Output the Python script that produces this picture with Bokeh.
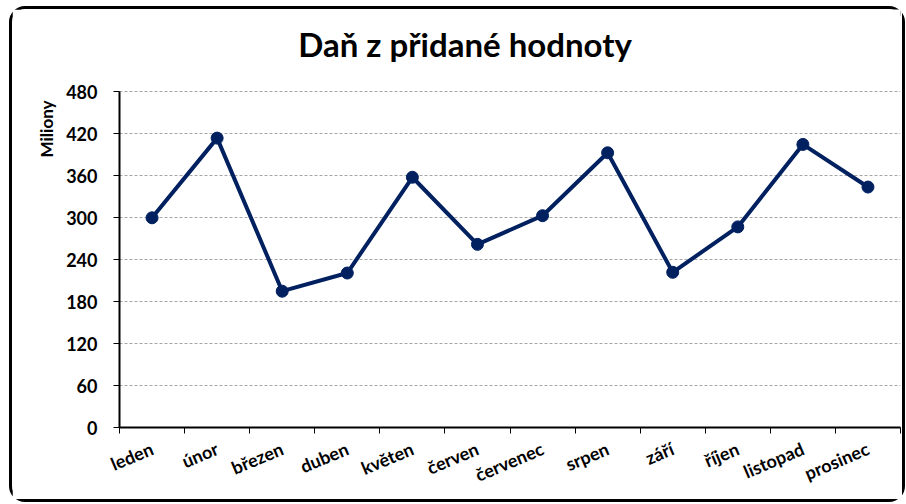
import math
from bokeh.plotting import figure
from bokeh.models import (ColumnDataSource, FixedTicker, Range1d, Title, Label)
from bokeh.embed import file_html
from bokeh.resources import INLINE

# ---- data ----
months = ["leden", "únor", "březen", "duben", "květen", "červen",
          "červenec", "srpen", "září", "říjen", "listopad", "prosinec"]
values = [300, 414, 195, 221, 358, 262, 303, 393, 222, 287, 405, 344]
y_ticks = [0, 60, 120, 180, 240, 300, 360, 420, 480]
title_text = "Daň z přidané hodnoty"
y_label = "Miliony"

FONT = "Lato"
NAVY = "#002060"

xpos = [i + 0.5 for i in range(len(months))]
src = ColumnDataSource(dict(x=xpos, y=values, m=months))

# frame reaches up to the top of the canvas; the axis is bounded to 0..480,
# the space above the top tick holds the title
p = figure(width=890, height=490, output_backend="svg", toolbar_location=None,
           x_range=Range1d(0, len(months)), y_range=Range1d(0, 598),
           min_border_left=107, min_border_right=8, min_border_top=0,
           min_border_bottom=78)
p.styles = {"border": "3px solid black", "border-radius": "16px",
            "box-sizing": "content-box", "margin": "6px 0 0 9px"}
p.outline_line_color = None
p.background_fill_color = "white"
p.border_fill_color = "white"

p.add_layout(Label(x=5.31, y=549, text=title_text, text_font=FONT,
                   text_font_style="bold", text_font_size="33px",
                   text_align="center", text_baseline="middle",
                   text_color="black"))

p.add_layout(Title(text=y_label, align="right", offset=91, text_font=FONT,
                   text_font_style="bold", text_font_size="17px",
                   text_color="black", standoff=13), "left")

p.line("x", "y", source=src, line_color=NAVY, line_width=4)
p.scatter("x", "y", source=src, size=12, fill_color=NAVY, line_color=NAVY)

# y axis
p.yaxis.ticker = FixedTicker(ticks=y_ticks)
p.yaxis.bounds = (0, 480)
p.yaxis.axis_line_width = 2
p.yaxis.axis_line_color = "black"
p.yaxis.major_tick_out = 6
p.yaxis.major_tick_in = 0
p.yaxis.major_tick_line_color = "black"
p.yaxis.minor_tick_line_color = None
p.yaxis.major_label_text_font = FONT
p.yaxis.major_label_text_font_style = "bold"
p.yaxis.major_label_text_font_size = "18px"
p.yaxis.major_label_text_color = "black"
p.yaxis.major_label_standoff = 16

# x axis
p.xaxis.ticker = FixedTicker(ticks=xpos, minor_ticks=list(range(len(months) + 1)))
p.xaxis.major_label_overrides = {x: m for x, m in zip(xpos, months)}
p.xaxis.axis_line_width = 2
p.xaxis.axis_line_color = "black"
p.xaxis.major_tick_line_color = None
p.xaxis.minor_tick_out = 6
p.xaxis.minor_tick_in = 0
p.xaxis.minor_tick_line_color = "black"
p.xaxis.major_label_orientation = 0.4
p.xaxis.major_label_text_font = FONT
p.xaxis.major_label_text_font_style = "bold"
p.xaxis.major_label_text_font_size = "18px"
p.xaxis.major_label_text_color = "black"
p.xaxis.major_label_standoff = 14

p.xgrid.grid_line_color = None
p.ygrid.ticker = FixedTicker(ticks=y_ticks)
p.ygrid.grid_line_color = "#a6a6a6"
p.ygrid.grid_line_dash = "3 2"
p.ygrid.grid_line_width = 1

open("out.html", "w").write(file_html(p, INLINE))
